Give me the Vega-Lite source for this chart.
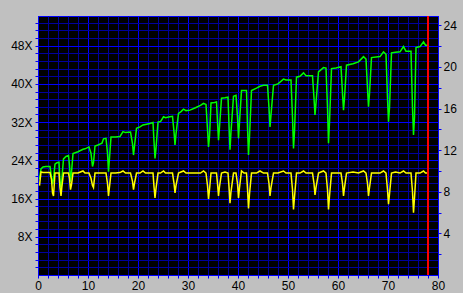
{
  "$schema": "https://vega.github.io/schema/vega-lite/v6.json",
  "width": 400,
  "height": 259,
  "autosize": {"type": "none"},
  "padding": {"left": 38, "top": 16, "right": 25, "bottom": 18},
  "background": "#c0c0c0",
  "config": {
    "view": {"fill": "#000000", "stroke": "#0000ff", "strokeWidth": 1},
    "axis": {
      "labelFont": "Liberation Sans",
      "labelFontSize": 12,
      "labelColor": "#000000",
      "domainColor": "#0000ff",
      "tickColor": "#0000ff",
      "tickSize": 3,
      "gridOpacity": 1,
      "gridWidth": 1,
      "labelOverlap": false,
      "labelBound": false,
      "labelFlush": false,
      "title": null
    }
  },
  "data": {
    "values": [
      {"x": 0.3, "g": 20.0, "y": 8.6},
      {"x": 0.6, "g": 22.2, "y": 9.9},
      {"x": 1.0, "g": 22.6, "y": 9.85},
      {"x": 1.6, "g": 22.7, "y": 9.85},
      {"x": 2.4, "g": 22.7, "y": 9.85},
      {"x": 2.7, "g": 20.5, "y": 9.2},
      {"x": 2.9, "g": 19.0, "y": 7.9},
      {"x": 3.1, "g": 20.0, "y": 7.6},
      {"x": 3.4, "g": 23.2, "y": 9.8},
      {"x": 3.8, "g": 23.5, "y": 9.8},
      {"x": 4.2, "g": 23.6, "y": 9.8},
      {"x": 4.4, "g": 19.5, "y": 8.4},
      {"x": 4.6, "g": 17.5, "y": 7.6},
      {"x": 4.8, "g": 20.5, "y": 8.6},
      {"x": 5.1, "g": 24.3, "y": 9.8},
      {"x": 5.6, "g": 24.8, "y": 9.8},
      {"x": 6.1, "g": 25.0, "y": 9.8},
      {"x": 6.3, "g": 23.0, "y": 9.3},
      {"x": 6.5, "g": 19.5, "y": 8.2},
      {"x": 6.7, "g": 21.5, "y": 8.7},
      {"x": 7.0, "g": 25.4, "y": 9.8},
      {"x": 8.0, "g": 25.8, "y": 9.8},
      {"x": 9.0, "g": 26.3, "y": 10.0},
      {"x": 9.4, "g": 26.4, "y": 9.8},
      {"x": 10.2, "g": 26.8, "y": 9.8},
      {"x": 10.6, "g": 25.5, "y": 9.3},
      {"x": 10.9, "g": 22.7, "y": 8.6},
      {"x": 11.1, "g": 23.5, "y": 8.4},
      {"x": 11.4, "g": 27.0, "y": 9.8},
      {"x": 12.0, "g": 27.2, "y": 9.8},
      {"x": 12.8, "g": 27.6, "y": 9.8},
      {"x": 13.1, "g": 28.5, "y": 9.8},
      {"x": 13.6, "g": 28.6, "y": 9.8},
      {"x": 13.9, "g": 25.5, "y": 8.8},
      {"x": 14.1, "g": 21.6, "y": 7.6},
      {"x": 14.3, "g": 24.5, "y": 8.5},
      {"x": 14.6, "g": 28.9, "y": 9.8},
      {"x": 15.5, "g": 28.9, "y": 9.8},
      {"x": 16.4, "g": 29.0, "y": 9.85},
      {"x": 17.0, "g": 30.0, "y": 10.0},
      {"x": 17.5, "g": 29.8, "y": 9.8},
      {"x": 18.5, "g": 29.9, "y": 9.8},
      {"x": 18.9, "g": 27.5, "y": 9.0},
      {"x": 19.1, "g": 25.1, "y": 8.2},
      {"x": 19.3, "g": 27.0, "y": 8.8},
      {"x": 19.7, "g": 30.7, "y": 9.8},
      {"x": 20.4, "g": 31.0, "y": 9.8},
      {"x": 21.0, "g": 31.4, "y": 10.0},
      {"x": 21.5, "g": 31.5, "y": 9.8},
      {"x": 22.4, "g": 31.7, "y": 9.8},
      {"x": 23.0, "g": 31.9, "y": 9.8},
      {"x": 23.2, "g": 28.0, "y": 8.5},
      {"x": 23.4, "g": 24.4, "y": 7.4},
      {"x": 23.6, "g": 26.5, "y": 8.3},
      {"x": 24.0, "g": 32.0, "y": 9.8},
      {"x": 24.5, "g": 32.1, "y": 9.8},
      {"x": 25.1, "g": 33.1, "y": 10.0},
      {"x": 25.5, "g": 32.9, "y": 9.8},
      {"x": 26.4, "g": 33.1, "y": 9.8},
      {"x": 26.9, "g": 33.2, "y": 9.8},
      {"x": 27.2, "g": 30.0, "y": 8.8},
      {"x": 27.4, "g": 27.2, "y": 7.9},
      {"x": 27.6, "g": 29.5, "y": 8.6},
      {"x": 28.1, "g": 33.8, "y": 9.8},
      {"x": 28.6, "g": 34.2, "y": 9.9},
      {"x": 29.1, "g": 34.7, "y": 10.0},
      {"x": 29.6, "g": 34.4, "y": 9.8},
      {"x": 30.4, "g": 34.5, "y": 9.8},
      {"x": 31.5, "g": 35.0, "y": 9.8},
      {"x": 32.5, "g": 35.5, "y": 9.8},
      {"x": 33.1, "g": 35.9, "y": 10.0},
      {"x": 33.6, "g": 35.7, "y": 9.8},
      {"x": 33.9, "g": 30.5, "y": 8.6},
      {"x": 34.1, "g": 26.8, "y": 7.3},
      {"x": 34.3, "g": 29.0, "y": 8.2},
      {"x": 34.6, "g": 36.0, "y": 9.8},
      {"x": 35.3, "g": 36.1, "y": 9.8},
      {"x": 35.7, "g": 36.2, "y": 9.8},
      {"x": 35.9, "g": 32.0, "y": 8.8},
      {"x": 36.1, "g": 28.2, "y": 7.6},
      {"x": 36.3, "g": 31.0, "y": 8.5},
      {"x": 36.7, "g": 37.0, "y": 9.8},
      {"x": 37.4, "g": 37.1, "y": 9.9},
      {"x": 38.0, "g": 37.2, "y": 9.8},
      {"x": 38.2, "g": 31.5, "y": 8.5},
      {"x": 38.4, "g": 26.2, "y": 6.9},
      {"x": 38.6, "g": 30.0, "y": 8.0},
      {"x": 39.1, "g": 37.4, "y": 9.8},
      {"x": 39.6, "g": 37.6, "y": 9.8},
      {"x": 39.9, "g": 33.0, "y": 8.8},
      {"x": 40.1, "g": 28.6, "y": 7.4},
      {"x": 40.3, "g": 32.0, "y": 8.4},
      {"x": 40.7, "g": 38.6, "y": 10.0},
      {"x": 41.2, "g": 38.6, "y": 9.8},
      {"x": 41.7, "g": 38.6, "y": 9.8},
      {"x": 41.9, "g": 31.0, "y": 8.3},
      {"x": 42.1, "g": 25.1, "y": 6.4},
      {"x": 42.3, "g": 29.0, "y": 7.8},
      {"x": 42.7, "g": 38.6, "y": 9.8},
      {"x": 43.7, "g": 39.1, "y": 9.8},
      {"x": 44.4, "g": 39.5, "y": 10.0},
      {"x": 45.1, "g": 39.7, "y": 9.8},
      {"x": 45.9, "g": 39.7, "y": 9.8},
      {"x": 46.2, "g": 35.0, "y": 8.8},
      {"x": 46.4, "g": 31.0, "y": 7.6},
      {"x": 46.6, "g": 33.5, "y": 8.4},
      {"x": 47.1, "g": 39.7, "y": 9.8},
      {"x": 48.0, "g": 40.0, "y": 9.8},
      {"x": 49.1, "g": 41.0, "y": 10.0},
      {"x": 49.6, "g": 40.8, "y": 9.8},
      {"x": 50.6, "g": 40.8, "y": 9.8},
      {"x": 50.9, "g": 33.0, "y": 8.2},
      {"x": 51.1, "g": 26.5, "y": 6.3},
      {"x": 51.3, "g": 30.0, "y": 7.5},
      {"x": 51.7, "g": 41.4, "y": 9.8},
      {"x": 52.4, "g": 41.6, "y": 9.8},
      {"x": 53.1, "g": 42.3, "y": 10.0},
      {"x": 53.6, "g": 41.7, "y": 9.8},
      {"x": 54.9, "g": 41.7, "y": 9.8},
      {"x": 55.2, "g": 37.0, "y": 8.8},
      {"x": 55.4, "g": 33.5, "y": 7.7},
      {"x": 55.6, "g": 36.0, "y": 8.4},
      {"x": 56.1, "g": 42.5, "y": 9.8},
      {"x": 57.1, "g": 43.4, "y": 10.0},
      {"x": 57.6, "g": 43.3, "y": 9.8},
      {"x": 57.9, "g": 35.0, "y": 8.2},
      {"x": 58.1, "g": 27.6, "y": 6.3},
      {"x": 58.3, "g": 32.0, "y": 7.6},
      {"x": 58.7, "g": 43.2, "y": 9.8},
      {"x": 59.6, "g": 43.3, "y": 9.8},
      {"x": 60.6, "g": 43.6, "y": 9.8},
      {"x": 60.9, "g": 38.0, "y": 8.8},
      {"x": 61.1, "g": 34.5, "y": 7.6},
      {"x": 61.3, "g": 37.0, "y": 8.4},
      {"x": 61.7, "g": 43.9, "y": 9.8},
      {"x": 63.0, "g": 44.2, "y": 9.9},
      {"x": 64.1, "g": 44.6, "y": 9.8},
      {"x": 65.1, "g": 45.7, "y": 10.0},
      {"x": 65.6, "g": 45.2, "y": 9.8},
      {"x": 65.9, "g": 39.0, "y": 8.8},
      {"x": 66.1, "g": 35.2, "y": 7.6},
      {"x": 66.3, "g": 38.0, "y": 8.4},
      {"x": 66.7, "g": 45.5, "y": 9.8},
      {"x": 68.4, "g": 45.7, "y": 9.8},
      {"x": 69.1, "g": 46.7, "y": 10.0},
      {"x": 69.6, "g": 46.2, "y": 9.8},
      {"x": 69.9, "g": 37.0, "y": 8.2},
      {"x": 70.1, "g": 32.1, "y": 6.8},
      {"x": 70.3, "g": 35.0, "y": 7.8},
      {"x": 70.7, "g": 46.5, "y": 9.8},
      {"x": 71.5, "g": 46.6, "y": 9.9},
      {"x": 72.4, "g": 46.7, "y": 9.8},
      {"x": 73.1, "g": 47.8, "y": 10.0},
      {"x": 73.6, "g": 46.8, "y": 9.8},
      {"x": 74.6, "g": 46.8, "y": 9.8},
      {"x": 74.9, "g": 35.0, "y": 8.0},
      {"x": 75.1, "g": 29.3, "y": 6.0},
      {"x": 75.3, "g": 33.0, "y": 7.4},
      {"x": 75.6, "g": 47.6, "y": 9.8},
      {"x": 76.4, "g": 47.8, "y": 9.8},
      {"x": 77.1, "g": 48.8, "y": 10.0},
      {"x": 77.5, "g": 48.1, "y": 9.8},
      {"x": 78.0, "g": 48.1, "y": 9.8}
    ]
  },
  "encoding": {
    "x": {
      "field": "x",
      "type": "quantitative",
      "scale": {"domain": [0, 80], "nice": false},
      "axis": {
        "values": [0, 2, 4, 6, 8, 10, 12, 14, 16, 18, 20, 22, 24, 26, 28, 30, 32, 34, 36, 38, 40, 42, 44, 46, 48, 50, 52, 54, 56, 58, 60, 62, 64, 66, 68, 70, 72, 74, 76, 78, 80],
        "labelExpr": "datum.value % 10 === 0 ? '' + datum.value : ''",
        "labelPadding": 2,
        "labelOverlap": false,
        "grid": true,
        "gridColor": {"condition": {"test": "datum.value % 10 === 0", "value": "#0000ff"}, "value": "#00009c"}
      }
    }
  },
  "layer": [
    {
      "mark": {"type": "line", "color": "#00ff00", "strokeWidth": 1.5},
      "encoding": {
        "y": {
          "field": "g",
          "type": "quantitative",
          "scale": {"domain": [0, 54.2], "nice": false},
          "axis": {
            "values": [1.6, 3.2, 4.8, 6.4, 8, 9.6, 11.2, 12.8, 14.4, 16, 17.6, 19.2, 20.8, 22.4, 24, 25.6, 27.2, 28.8, 30.4, 32, 33.6, 35.2, 36.8, 38.4, 40, 41.6, 43.2, 44.8, 46.4, 48, 49.6, 51.2, 52.8],
            "labelExpr": "datum.value % 8 === 0 ? datum.value + 'X' : ''",
            "labelPadding": 3,
            "labelOverlap": false,
            "grid": true,
            "gridColor": {"condition": {"test": "datum.value % 8 === 0", "value": "#0000ff"}, "value": "#00009c"}
          }
        }
      }
    },
    {
      "mark": {"type": "line", "color": "#ffff00", "strokeWidth": 1.5},
      "encoding": {
        "y": {
          "field": "y",
          "type": "quantitative",
          "scale": {"domain": [0, 24.9], "nice": false},
          "axis": {
            "orient": "right",
            "values": [2, 4, 6, 8, 10, 12, 14, 16, 18, 20, 22, 24],
            "labelExpr": "datum.value % 4 === 0 ? datum.label : ''",
            "labelPadding": 2,
            "labelOverlap": false,
            "grid": false
          }
        }
      }
    },
    {
      "data": {"values": [{"x": 78}]},
      "mark": {"type": "rule", "color": "#ff0000", "strokeWidth": 2}
    }
  ],
  "resolve": {"scale": {"y": "independent"}, "axis": {"y": "independent"}}
}
